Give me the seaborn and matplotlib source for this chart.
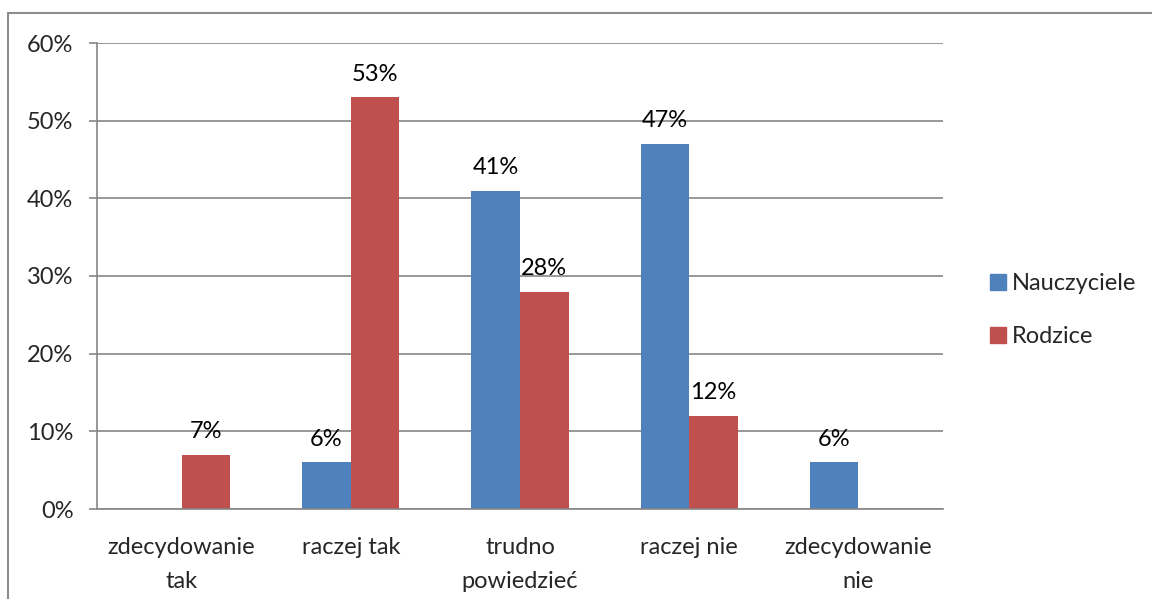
import pandas as pd
import numpy as np
import matplotlib
matplotlib.use("Agg")
import matplotlib.pyplot as plt
from matplotlib.lines import Line2D
from matplotlib.ticker import FixedLocator, FuncFormatter
import seaborn as sns

# dane
kategorie = ["zdecydowanie\ntak", "raczej tak", "trudno\npowiedzieć", "raczej nie", "zdecydowanie\nnie"]
nauczyciele = [np.nan, 6, 41, 47, 6]
rodzice = [7, 53, 28, 12, np.nan]
grupy = ["Nauczyciele", "Rodzice"]
kolory = ["#4F81BD", "#C0504D"]

df = pd.DataFrame({
    "kategoria": kategorie * 2,
    "grupa": [grupy[0]] * 5 + [grupy[1]] * 5,
    "wartosc": nauczyciele + rodzice,
})

sns.set_style("white")
plt.rcParams["font.family"] = ["Lato", "DejaVu Sans"]
szary = "#868686"
fs = 17

fig = plt.figure(figsize=(11.52, 5.99), dpi=100)
ax = fig.add_axes([97 / 1152, 1 - 509 / 599, 846 / 1152, 466 / 599])

sns.barplot(data=df, x="kategoria", y="wartosc", hue="grupa", order=kategorie,
            hue_order=grupy, palette=kolory, width=0.574, saturation=1,
            ax=ax, dodge=True, legend=True, linewidth=0)

for c in ax.containers:
    etykiety = [f"{b.get_height():.0f}%" if b.get_height() > 0 else "" for b in c]
    ax.bar_label(c, labels=etykiety, padding=9, fontsize=fs, color="#000000")

ax.set_ylim(0, 60)
ax.set_xlim(-0.5, 4.5)
ax.set_yticks(range(0, 61, 10))
ax.yaxis.set_major_formatter(FuncFormatter(lambda v, p: f"{v:.0f}%"))
ax.grid(axis="y", color=szary, linewidth=1.2)
ax.set_axisbelow(True)
ax.set_xlabel("")
ax.set_ylabel("")

for s in ["top", "right"]:
    ax.spines[s].set_visible(False)
for s in ["left", "bottom"]:
    ax.spines[s].set_color(szary)
    ax.spines[s].set_linewidth(1.2)

ax.xaxis.set_minor_locator(FixedLocator(np.arange(-0.5, 5, 1)))
ax.tick_params(axis="x", which="major", length=0, pad=20, labelsize=fs)
ax.tick_params(axis="x", which="minor", length=6, width=1.2, color=szary, direction="out")
ax.tick_params(axis="y", length=6, width=1.2, color=szary, direction="out", pad=11, labelsize=fs, left=True)
for t in ax.get_xticklabels():
    t.set_linespacing(1.75)

uchwyty = [Line2D([], [], marker="s", linestyle="", markersize=11, markerfacecolor=k,
                  markeredgecolor=k) for k in kolory]
ax.legend(uchwyty, grupy, loc="center left", bbox_to_anchor=(965 / 1152, 1 - 310 / 599),
          bbox_transform=fig.transFigure, frameon=False, fontsize=fs,
          handletextpad=0.1, labelspacing=1.35, handlelength=1.0)

# ramka wykresu
fig.add_artist(Line2D([8 / 1152, 8 / 1152], [0, 1 - 13 / 599], color="#8c8c8c", linewidth=1.5,
                      transform=fig.transFigure))
fig.add_artist(Line2D([8 / 1152, 1], [1 - 13 / 599, 1 - 13 / 599], color="#8c8c8c", linewidth=1.5,
                      transform=fig.transFigure))

fig.savefig("out.png", dpi=100)
